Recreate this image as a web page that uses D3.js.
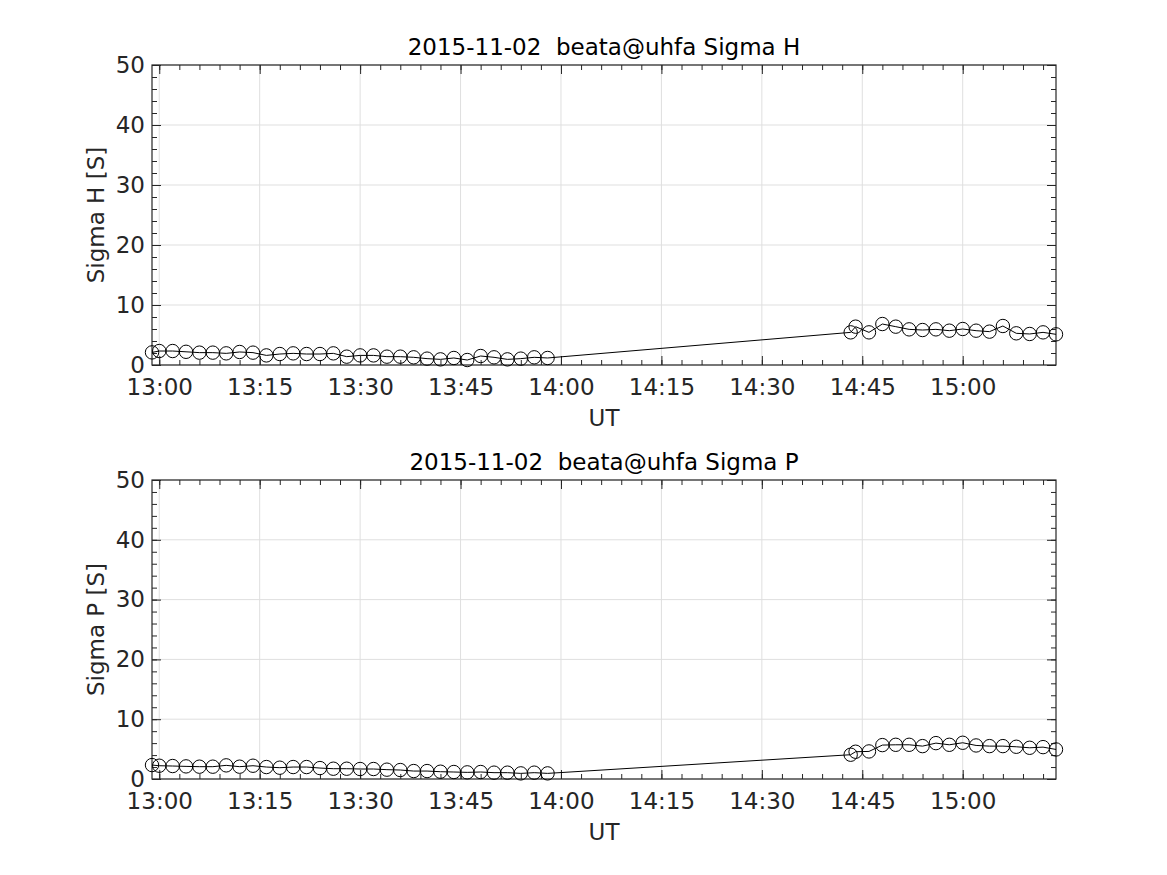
<!DOCTYPE html>
<html>
<head>
<meta charset="utf-8">
<script src="https://cdn.jsdelivr.net/npm/d3@7"></script>
<style>
  body { margin: 0; background: #fff; }
  svg text { font-family: "DejaVu Sans", sans-serif; fill: #262626; white-space: pre; }
</style>
</head>
<body>
<div id="chart-area"></div>
<script>
// sample times (UT) shared by both panels
var times = ["12:58:55", "13:00:00", "13:02:00", "13:04:00", "13:06:00", "13:08:00", "13:10:00",
    "13:12:00", "13:14:00", "13:16:00", "13:18:00", "13:20:00", "13:22:00", "13:24:00",
    "13:26:00", "13:28:00", "13:30:00", "13:32:00", "13:34:00", "13:36:00", "13:38:00",
    "13:40:00", "13:42:00", "13:44:00", "13:46:00", "13:48:00", "13:50:00", "13:52:00",
    "13:54:00", "13:56:00", "13:58:00",
    "14:43:16", "14:44:00", "14:46:00", "14:48:00", "14:50:00", "14:52:00", "14:54:00",
    "14:56:00", "14:58:00", "15:00:00", "15:02:00", "15:04:00", "15:06:00", "15:08:00",
    "15:10:00", "15:12:00", "15:13:56"]

var sigmaH = [2.1, 2.33, 2.33, 2.2, 2.06, 2.06, 1.94, 2.17, 2.06, 1.6, 1.83, 1.94, 1.83, 1.83,
    1.94, 1.39, 1.6, 1.6, 1.39, 1.39, 1.28, 1.06, 0.94, 1.17, 0.83, 1.5, 1.28, 0.94, 1.06,
    1.28, 1.17,
    5.44, 6.39, 5.44, 6.83, 6.39, 5.94, 5.83, 5.94, 5.72, 6.0, 5.72, 5.56, 6.5, 5.28, 5.17,
    5.44, 5.11]

var sigmaP = [2.33, 2.22, 2.17, 2.11, 2.06, 2.06, 2.28, 2.06, 2.22, 2.0, 1.89, 2.0, 2.0, 1.83,
    1.72, 1.72, 1.67, 1.67, 1.56, 1.5, 1.33, 1.33, 1.22, 1.17, 1.11, 1.17, 1.06, 1.06, 0.94,
    1.06, 0.94,
    4.06, 4.56, 4.61, 5.67, 5.72, 5.72, 5.5, 6.0, 5.72, 6.06, 5.61, 5.5, 5.5, 5.39, 5.22,
    5.33, 4.94]

var xTicks = ["13:00", "13:15", "13:30", "13:45", "14:00", "14:15", "14:30", "14:45", "15:00"]
var yTicks = [0, 10, 20, 30, 40, 50]
var panels = [
    {title: "2015-11-02  beata@uhfa Sigma H", ylabel: "Sigma H [S]", values: sigmaH},
    {title: "2015-11-02  beata@uhfa Sigma P", ylabel: "Sigma P [S]", values: sigmaP}
]

var parseT = d3.timeParse("%Y-%m-%d %H:%M:%S")
var parseTick = d3.timeParse("%Y-%m-%d %H:%M")
function toDate(s) { return parseT("2015-11-02 " + s) }

var svgWidth = 1167
var svgHeight = 875
var axColor = "#262626"
var gridColor = "#dfdfdf"
var fontSize = "23px"

var svg = d3.select("#chart-area")
    .append("svg")
    .attr("width", svgWidth)
    .attr("height", svgHeight)

var dates = times.map(toDate)

var xScale = d3.scaleTime()
    .domain([dates[0], dates[dates.length - 1]])
    .range([152, 1056])

var tickDates = xTicks.map(function(t) { return parseTick("2015-11-02 " + t) })
var minorX = d3.timeMinute.every(3).range(dates[0], dates[dates.length - 1])
    .filter(function(d) { return d.getMinutes() % 3 == 0 })

var tops = [65, 480]
var bottoms = [365, 779]

panels.forEach(function(p, i) {
    var yScale = d3.scaleLinear()
        .domain([0, 50])
        .range([bottoms[i], tops[i]])
    var g = svg.append("g")
    var x0 = xScale.range()[0], x1 = xScale.range()[1]
    var y0 = yScale.range()[0], y1 = yScale.range()[1]

    // grid
    g.selectAll(".gx").data(tickDates).enter().append("line")
        .attr("x1", d => xScale(d)).attr("x2", d => xScale(d))
        .attr("y1", y0).attr("y2", y1)
        .attr("stroke", gridColor).attr("stroke-width", 1)
    g.selectAll(".gy").data(yTicks).enter().append("line")
        .attr("x1", x0).attr("x2", x1)
        .attr("y1", d => yScale(d)).attr("y2", d => yScale(d))
        .attr("stroke", gridColor).attr("stroke-width", 1)

    // axes with inward ticks on all four sides
    var minorY = d3.range(0, 51, 2)
    function addAxis(axis, tr) {
        var a = g.append("g").attr("transform", tr).call(axis)
        a.select(".domain").remove()
        a.selectAll("line").attr("stroke", axColor)
        return a
    }
    addAxis(d3.axisBottom(xScale).tickValues(minorX).tickSize(-5).tickFormat(""), "translate(0," + y0 + ")")
    addAxis(d3.axisTop(xScale).tickValues(minorX).tickSize(-5).tickFormat(""), "translate(0," + y1 + ")")
    addAxis(d3.axisLeft(yScale).tickValues(minorY).tickSize(-5).tickFormat(""), "translate(" + x0 + ",0)")
    addAxis(d3.axisRight(yScale).tickValues(minorY).tickSize(-5).tickFormat(""), "translate(" + x1 + ",0)")
    addAxis(d3.axisTop(xScale).tickValues(tickDates).tickSize(-9).tickFormat(""), "translate(0," + y1 + ")")
    addAxis(d3.axisRight(yScale).tickValues(yTicks).tickSize(-9).tickFormat(""), "translate(" + x1 + ",0)")

    var bx = addAxis(d3.axisBottom(xScale).tickValues(tickDates).tickSize(-9)
        .tickPadding(14).tickFormat(d3.timeFormat("%H:%M")), "translate(0," + y0 + ")")
    bx.selectAll("text").attr("font-size", fontSize).attr("fill", axColor)
        .attr("font-family", "DejaVu Sans")
    var ly = addAxis(d3.axisLeft(yScale).tickValues(yTicks).tickSize(-9).tickPadding(7), "translate(" + x0 + ",0)")
    ly.selectAll("text").attr("font-size", fontSize).attr("fill", axColor)
        .attr("font-family", "DejaVu Sans")

    // box
    g.append("rect")
        .attr("x", x0).attr("y", y1)
        .attr("width", x1 - x0).attr("height", y0 - y1)
        .attr("fill", "none").attr("stroke", axColor).attr("stroke-width", 1.2)

    // data line + circle markers
    var pts = p.values.map(function(v, k) { return {t: dates[k], v: v} })
    var line = d3.line().x(d => xScale(d.t)).y(d => yScale(d.v))
    g.append("path")
        .datum(pts)
        .attr("d", line)
        .attr("fill", "none")
        .attr("stroke", "#000")
        .attr("stroke-width", 1)
    g.selectAll(".pt").data(pts).enter().append("circle")
        .attr("cx", d => xScale(d.t))
        .attr("cy", d => yScale(d.v))
        .attr("r", 6.7)
        .attr("fill", "none")
        .attr("stroke", "#000")
        .attr("stroke-width", 1)

    // labels
    g.append("text")
        .attr("x", (x0 + x1) / 2)
        .attr("y", y1 - 10.5)
        .attr("text-anchor", "middle")
        .attr("font-size", fontSize)
        .style("fill", "#000")
        .text(p.title)
    g.append("text")
        .attr("x", (x0 + x1) / 2)
        .attr("y", y0 + 60.5)
        .attr("text-anchor", "middle")
        .attr("font-size", fontSize)
        .text("UT")
    g.append("text")
        .attr("transform", "translate(104," + ((y0 + y1) / 2) + ") rotate(-90)")
        .attr("text-anchor", "middle")
        .attr("font-size", fontSize)
        .text(p.ylabel)
})
</script>
</body>
</html>
